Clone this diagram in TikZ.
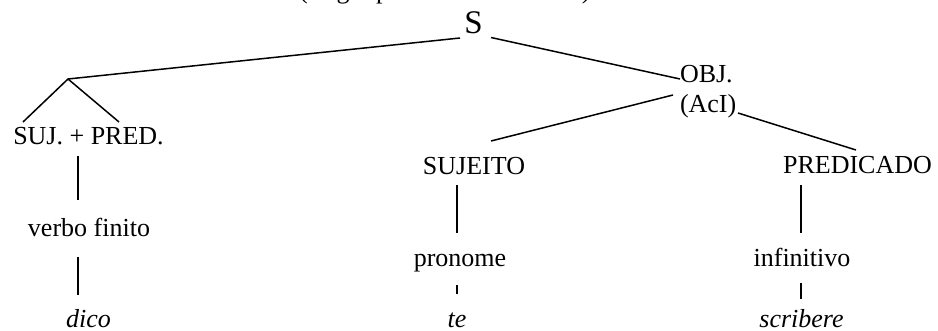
\documentclass[tikz,border=0pt]{standalone}
\usepackage{fontspec}
\setmainfont{Liberation Serif}
\usetikzlibrary{calc}

\begin{document}
\begin{tikzpicture}[x=1pt, y=-1pt,
  lbl/.style={inner sep=0pt, outer sep=0pt, font=\fontsize{26}{31}\selectfont},
  big/.style={inner sep=0pt, outer sep=0pt, font=\fontsize{33}{38}\selectfont},
  edge/.style={line width=1.5pt, line cap=butt}]
  \useasboundingbox (0,0) rectangle (938,331);
  \clip (0,0) rectangle (938,331);

  % title line, mostly above the page edge
  \node[lbl, anchor=base west] (title) at (299,-1.5) {(Regra para a estrutura AcI)};

  % root
  \node[big, anchor=base] (S) at (473.5,34) {S};
  \coordinate (j) at (68,79);

  % main clause
  \node[lbl, anchor=base] (sp) at (88.5,145) {SUJ. + PRED.};
  \node[lbl, anchor=base] (vf) at (89,237) {verbo finito};
  \node[lbl, anchor=base] (dico) at (88.5,327) {\itshape dico};

  % object clause (AcI)
  \node[lbl, anchor=base west] (obj) at (680,83) {OBJ.};
  \node[lbl, anchor=base west] (aci) at (680,113) {(AcI)};

  \node[lbl, anchor=base] (suj) at (474,175) {SUJEITO};
  \node[lbl, anchor=base] (pron) at (460,267) {pronome};
  \node[lbl, anchor=base] (te) at (457,327) {\itshape te};

  \node[lbl, anchor=base] (pred) at (857.5,174) {PREDICADO};
  \node[lbl, anchor=base] (inf) at (802,267) {infinitivo};
  \node[lbl, anchor=base] (scr) at (801.5,327) {\itshape scribere};

  % branches
  \draw[edge] ($(S.base)+(-13.5,4)$) -- (j);
  \draw[edge] ($(S.base)+(17.5,3.5)$) -- ($(obj.base west)+(0,-4)$);
  \draw[edge] (j) -- ($(sp.base)+(-65.5,-23)$);
  \draw[edge] (j) -- ($(sp.base)+(30.5,-23)$);
  \draw[edge] ($(sp.base)+(-10.5,11)$) -- ($(vf.base)+(-11,-37)$);
  \draw[edge] ($(vf.base)+(-11,20)$) -- ($(dico.base)+(-10.5,-32)$);

  \draw[edge] ($(obj.base west)+(-7,12)$) -- ($(suj.base)+(17,-34)$);
  \draw[edge] ($(aci.base west)+(58,0)$) -- ($(pred.base)+(-1.5,-24)$);

  \draw[edge] ($(suj.base)+(-17,10)$) -- ($(pron.base)+(-3,-34)$);
  \draw[edge] ($(pron.base)+(-3,18)$) -- ($(te.base)+(0,-33)$);

  \draw[edge] ($(pred.base)+(-56.5,11)$) -- ($(inf.base)+(-1,-34)$);
  \draw[edge] ($(inf.base)+(-1,16)$) -- ($(scr.base)+(-0.5,-28)$);
\end{tikzpicture}
\end{document}
